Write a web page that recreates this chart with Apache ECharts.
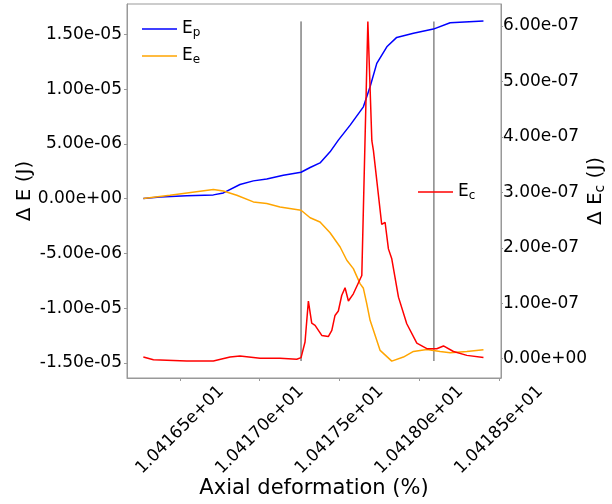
<!DOCTYPE html>
<html><head><meta charset="utf-8">
<script src="https://cdn.jsdelivr.net/npm/echarts@6/dist/echarts.min.js"></script>
<style>html,body{margin:0;padding:0;background:#fff}#c{width:612px;height:504px}</style>
</head><body><div id="c"></div>
<script>
// ---- data ----
const xTicks = [10.4165, 10.417, 10.4175, 10.418, 10.4185];
const leftTicks = [-1.5e-5, -1.0e-5, -5e-6, 0, 5e-6, 1.0e-5, 1.5e-5];
const rightTicks = [0, 1e-7, 2e-7, 3e-7, 4e-7, 5e-7, 6e-7];

const epX = [10.416270, 10.416375, 10.416542, 10.416709, 10.416772, 10.416876, 10.416960, 10.417044, 10.417148, 10.417259, 10.417316, 10.417378, 10.417441, 10.417493, 10.417567, 10.417650, 10.417692, 10.417734, 10.417797, 10.417859, 10.417964, 10.418089, 10.418194, 10.418403];
const epY = [0.02e-6, 0.16e-6, 0.26e-6, 0.35e-6, 0.53e-6, 1.30e-6, 1.63e-6, 1.81e-6, 2.15e-6, 2.42e-6, 2.85e-6, 3.27e-6, 4.28e-6, 5.35e-6, 6.72e-6, 8.39e-6, 10.22e-6, 12.36e-6, 13.87e-6, 14.73e-6, 15.10e-6, 15.49e-6, 16.07e-6, 16.22e-6];

const eeX = [10.416270, 10.416437, 10.416709, 10.416772, 10.416856, 10.416960, 10.417044, 10.417127, 10.417259, 10.417316, 10.417378, 10.417441, 10.417504, 10.417546, 10.417587, 10.417629, 10.417650, 10.417671, 10.417692, 10.417713, 10.417755, 10.417828, 10.417901, 10.417964, 10.418048, 10.418131, 10.418194, 10.418299, 10.418403];
const eeY = [0.02e-6, 0.32e-6, 0.84e-6, 0.71e-6, 0.32e-6, -0.29e-6, -0.44e-6, -0.75e-6, -1.05e-6, -1.74e-6, -2.12e-6, -3.11e-6, -4.41e-6, -5.62e-6, -6.38e-6, -7.75e-6, -8.18e-6, -9.58e-6, -11.1e-6, -12.02e-6, -13.85e-6, -14.83e-6, -14.46e-6, -13.94e-6, -13.76e-6, -13.94e-6, -14.06e-6, -13.94e-6, -13.78e-6];

const ecX = [10.416270, 10.416333, 10.416542, 10.416709, 10.416814, 10.416876, 10.417002, 10.417127, 10.417232, 10.417259, 10.417284, 10.417305, 10.417326, 10.417347, 10.417389, 10.417430, 10.417452, 10.417472, 10.417493, 10.417514, 10.417535, 10.417556, 10.417587, 10.417640, 10.417678, 10.417703, 10.417713, 10.417765, 10.417786, 10.417807, 10.417828, 10.417870, 10.417922, 10.417985, 10.418048, 10.418110, 10.418152, 10.418215, 10.418299, 10.418403];
const ecY = [0.03e-7, -0.02e-7, -0.04e-7, -0.04e-7, 0.03e-7, 0.05e-7, 0.01e-7, 0.01e-7, -0.01e-7, 0.02e-7, 0.30e-7, 1.04e-7, 0.64e-7, 0.60e-7, 0.42e-7, 0.40e-7, 0.51e-7, 0.78e-7, 0.86e-7, 1.14e-7, 1.28e-7, 1.04e-7, 1.17e-7, 1.50e-7, 6.08e-7, 3.93e-7, 3.75e-7, 2.42e-7, 2.46e-7, 1.98e-7, 1.80e-7, 1.11e-7, 0.63e-7, 0.28e-7, 0.18e-7, 0.18e-7, 0.23e-7, 0.13e-7, 0.06e-7, 0.02e-7];

const vlineX = [10.417259, 10.418092];
const vlineY = [1.619e-5, -1.482e-5];

// ---- helpers ----
function sci(v, d) {
  const s = Number(v).toExponential(d);
  return s.replace(/e([+-])(\d+)$/, (m, sg, dg) => 'e' + sg + (dg.length < 2 ? '0' + dg : dg));
}
const zip = (xs, ys) => xs.map((x, i) => [x, ys[i]]);
const FONT = 'DejaVu Sans';
const subNames = { Ep: 'p', Ee: 'e', Ec: 'c' };
const legendRich = {
  m: { fontSize: 17, fontFamily: FONT, color: '#000' },
  s: { fontSize: 12, fontFamily: FONT, color: '#000', padding: [7, 0, 0, 0] }
};

const chart = echarts.init(document.getElementById('c'), null, { renderer: 'canvas' });
chart.setOption({
  animation: false,
  backgroundColor: '#fff',
  grid: { left: 127, top: 4, right: 111, bottom: 126, show: true, borderColor: '#999', borderWidth: 1,
    containLabel: false, outerBoundsMode: 'none' },
  legend: [
    { data: ['Ep', 'Ee'], orient: 'vertical', left: 142, top: 19, padding: 0, icon: 'rect', itemWidth: 35, itemHeight: 1.5, itemGap: 7,
      formatter: n => '{m|E}{s|' + subNames[n] + '}', textStyle: { rich: legendRich, lineHeight: 20 }, selectedMode: false },
    { data: ['Ec'], orient: 'vertical', left: 418, top: 182, padding: 0, icon: 'rect', itemWidth: 35, itemHeight: 1.5,
      formatter: n => '{m|E}{s|' + subNames[n] + '}', textStyle: { rich: legendRich, lineHeight: 20 }, selectedMode: false }
  ],
  xAxis: {
    type: 'value', min: 10.4161675, max: 10.418513,
    name: 'Axial deformation (%)', nameLocation: 'middle', nameGap: 100, nameMoveOverlap: false,
    nameTextStyle: { fontSize: 21, fontFamily: FONT, color: '#000' },
    axisLine: { onZero: false, lineStyle: { color: '#999' } },
    axisTick: { show: true, length: 3, lineStyle: { color: '#999' }, customValues: xTicks },
    axisLabel: { customValues: xTicks, rotate: 45, align: 'center', verticalAlign: 'middle', margin: 52,
      fontSize: 17, fontFamily: FONT, color: '#000', formatter: v => sci(v, 5) },
    splitLine: { show: false }
  },
  yAxis: [
    {
      type: 'value', position: 'left', min: -1.637e-5, max: 1.778e-5,
      name: 'Δ E (J)', nameLocation: 'middle', nameRotate: 90, nameGap: 92, nameMoveOverlap: false,
      nameTextStyle: { fontSize: 20, fontFamily: FONT, color: '#000' },
      axisLine: { show: true, onZero: false, lineStyle: { color: '#999' } },
      axisTick: { show: true, length: 3, lineStyle: { color: '#999' }, customValues: leftTicks },
      axisLabel: { customValues: leftTicks, margin: 5, fontSize: 17, fontFamily: FONT, color: '#000', formatter: v => sci(v, 2) },
      splitLine: { show: false }
    },
    {
      type: 'value', position: 'right', min: -0.348e-7, max: 6.395e-7,
      name: '{m|Δ E}{s|c}{m| (J)}', nameLocation: 'middle', nameRotate: 90, nameGap: 84, nameMoveOverlap: false,
      nameTextStyle: { fontSize: 20, fontFamily: FONT, color: '#000',
        rich: { m: { fontSize: 20, fontFamily: FONT, color: '#000' }, s: { fontSize: 14, fontFamily: FONT, color: '#000', padding: [8, 0, 0, 0] } } },
      axisLine: { show: true, onZero: false, lineStyle: { color: '#999' } },
      axisTick: { show: true, length: 2, lineStyle: { color: '#999' }, customValues: rightTicks },
      axisLabel: { customValues: rightTicks, margin: 2, fontSize: 17, fontFamily: FONT, color: '#000', formatter: v => sci(v, 2) },
      splitLine: { show: false }
    }
  ],
  series: [
    { name: 'vline1', type: 'line', xAxisIndex: 0, yAxisIndex: 0, symbol: 'none', silent: true,
      data: [[vlineX[0], vlineY[0]], [vlineX[0], vlineY[1]]], lineStyle: { color: '#444', width: 1 } },
    { name: 'vline2', type: 'line', xAxisIndex: 0, yAxisIndex: 0, symbol: 'none', silent: true,
      data: [[vlineX[1], vlineY[0]], [vlineX[1], vlineY[1]]], lineStyle: { color: '#888', width: 1.5 } },
    { name: 'Ep', type: 'line', xAxisIndex: 0, yAxisIndex: 0, symbol: 'none', data: zip(epX, epY),
      lineStyle: { color: '#0000ff', width: 1.5 }, itemStyle: { color: '#0000ff' } },
    { name: 'Ee', type: 'line', xAxisIndex: 0, yAxisIndex: 0, symbol: 'none', data: zip(eeX, eeY),
      lineStyle: { color: '#ffa500', width: 1.5 }, itemStyle: { color: '#ffa500' } },
    { name: 'Ec', type: 'line', xAxisIndex: 0, yAxisIndex: 1, symbol: 'none', data: zip(ecX, ecY),
      lineStyle: { color: '#ff0000', width: 1.5 }, itemStyle: { color: '#ff0000' } }
  ]
});
</script>
</body></html>
